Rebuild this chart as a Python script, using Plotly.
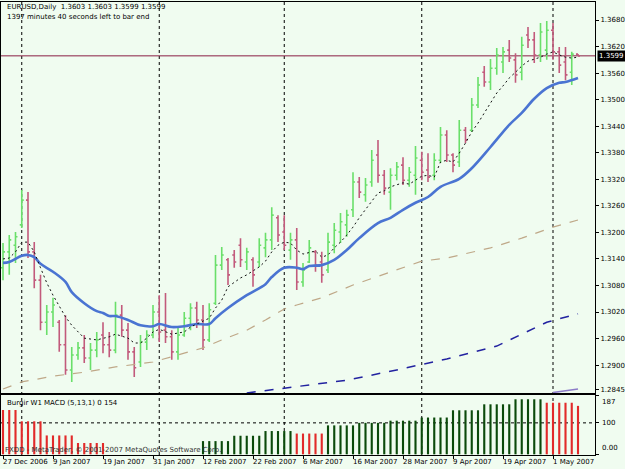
import plotly.graph_objects as go

# ---------------- data ----------------
bar_idx = list(range(93))
open_ = [1.3120, 1.3156, 1.3171, 1.3217, 1.3273, 1.3156, 1.3092, 1.2997, 1.3020, 1.2997,
         1.2946, 1.2889, 1.2923, 1.2939, 1.2916, 1.2934, 1.2968, 1.2946, 1.2934, 1.3013,
         1.2979, 1.2930, 1.2907, 1.2952, 1.2968, 1.3020, 1.2979, 1.2964, 1.2930, 1.2968,
         1.3006, 1.3029, 1.3002, 1.2957, 1.3040, 1.3126, 1.3138, 1.3149, 1.3171, 1.3133,
         1.3138, 1.3133, 1.3165, 1.3183, 1.3233, 1.3201, 1.3160, 1.3183, 1.3088, 1.3133,
         1.3156, 1.3133, 1.3115, 1.3171, 1.3201, 1.3217, 1.3251, 1.3314, 1.3285, 1.3314,
         1.3375, 1.3329, 1.3291, 1.3329, 1.3352, 1.3318, 1.3329, 1.3363, 1.3341, 1.3329,
         1.3363, 1.3420, 1.3375, 1.3359, 1.3431, 1.3431, 1.3488, 1.3562, 1.3540, 1.3571,
         1.3585, 1.3612, 1.3590, 1.3562, 1.3646, 1.3635, 1.3601, 1.3612, 1.3657, 1.3608,
         1.3585, 1.3562, 1.3603]
high = [1.3176, 1.3194, 1.3201, 1.3296, 1.3291, 1.3178, 1.3104, 1.3036, 1.3052, 1.3002,
        1.3013, 1.2941, 1.2952, 1.2968, 1.2950, 1.2975, 1.2997, 1.2975, 1.3043, 1.3036,
        1.2995, 1.2941, 1.2968, 1.2979, 1.3036, 1.3058, 1.3063, 1.2979, 1.2986, 1.3020,
        1.3040, 1.3043, 1.3036, 1.3040, 1.3149, 1.3167, 1.3142, 1.3160, 1.3187, 1.3165,
        1.3144, 1.3187, 1.3199, 1.3257, 1.3239, 1.3239, 1.3199, 1.3210, 1.3131, 1.3183,
        1.3160, 1.3156, 1.3199, 1.3221, 1.3244, 1.3251, 1.3336, 1.3325, 1.3323, 1.3386,
        1.3409, 1.3341, 1.3345, 1.3359, 1.3370, 1.3348, 1.3395, 1.3382, 1.3379, 1.3379,
        1.3438, 1.3431, 1.3379, 1.3454, 1.3438, 1.3504, 1.3551, 1.3576, 1.3592, 1.3617,
        1.3619, 1.3635, 1.3605, 1.3642, 1.3664, 1.3653, 1.3673, 1.3678, 1.3673, 1.3619,
        1.3619, 1.3608, 1.3603]
low = [1.3092, 1.3104, 1.3131, 1.3210, 1.3142, 1.3074, 1.2979, 1.2968, 1.2986, 1.2930,
       1.2878, 1.2862, 1.2912, 1.2905, 1.2889, 1.2918, 1.2927, 1.2918, 1.2927, 1.2964,
       1.2912, 1.2873, 1.2896, 1.2934, 1.2961, 1.2952, 1.2950, 1.2912, 1.2912, 1.2964,
       1.2979, 1.2984, 1.2934, 1.2952, 1.3036, 1.3115, 1.3081, 1.3120, 1.3122, 1.3115,
       1.3077, 1.3122, 1.3144, 1.3160, 1.3178, 1.3160, 1.3138, 1.3070, 1.3077, 1.3131,
       1.3111, 1.3086, 1.3108, 1.3153, 1.3176, 1.3190, 1.3235, 1.3278, 1.3269, 1.3303,
       1.3312, 1.3285, 1.3251, 1.3318, 1.3307, 1.3303, 1.3285, 1.3318, 1.3314, 1.3318,
       1.3357, 1.3359, 1.3336, 1.3348, 1.3402, 1.3427, 1.3481, 1.3529, 1.3522, 1.3556,
       1.3560, 1.3585, 1.3538, 1.3544, 1.3617, 1.3583, 1.3585, 1.3590, 1.3590, 1.3560,
       1.3544, 1.3533, 1.3599]
close = [1.3156, 1.3183, 1.3190, 1.3273, 1.3156, 1.3092, 1.2997, 1.3020, 1.3036, 1.2946,
         1.2889, 1.2923, 1.2939, 1.2916, 1.2934, 1.2957, 1.2946, 1.2934, 1.3013, 1.2979,
         1.2930, 1.2894, 1.2952, 1.2968, 1.3020, 1.2975, 1.2964, 1.2930, 1.2968, 1.3006,
         1.3029, 1.3002, 1.2957, 1.3025, 1.3126, 1.3149, 1.3104, 1.3133, 1.3138, 1.3156,
         1.3104, 1.3171, 1.3183, 1.3239, 1.3194, 1.3171, 1.3183, 1.3088, 1.3115, 1.3165,
         1.3126, 1.3104, 1.3178, 1.3205, 1.3224, 1.3239, 1.3314, 1.3291, 1.3307, 1.3363,
         1.3329, 1.3300, 1.3329, 1.3348, 1.3318, 1.3336, 1.3368, 1.3336, 1.3325, 1.3363,
         1.3420, 1.3375, 1.3352, 1.3431, 1.3409, 1.3488, 1.3533, 1.3540, 1.3571, 1.3601,
         1.3608, 1.3594, 1.3556, 1.3623, 1.3635, 1.3601, 1.3653, 1.3657, 1.3608, 1.3578,
         1.3556, 1.3603, 1.3599]

# moving averages (bar index, price)
blue_idx = [0, 1, 3, 4, 5, 6, 8, 10, 11, 13, 15, 16, 17, 18, 20, 22, 24, 25, 27, 29, 31, 33,
            34, 36, 39, 42, 43, 45, 47, 48, 49, 51, 53, 55, 57, 60, 62, 64, 66, 68, 70, 73,
            75, 78, 81, 83, 85, 87, 89, 90, 92]
blue_val = [1.3131, 1.3133, 1.3147, 1.3149, 1.3144, 1.3129, 1.3111, 1.3088, 1.3065, 1.3040,
            1.3022, 1.3018, 1.3011, 1.3011, 1.3002, 1.2990, 1.2988, 1.2993, 1.2986, 1.2988,
            1.2993, 1.2993, 1.3006, 1.3029, 1.3058, 1.3083, 1.3099, 1.3120, 1.3120, 1.3117,
            1.3124, 1.3126, 1.3138, 1.3160, 1.3187, 1.3221, 1.3233, 1.3251, 1.3267, 1.3280,
            1.3303, 1.3321, 1.3345, 1.3393, 1.3443, 1.3470, 1.3502, 1.3526, 1.3538, 1.3540,
            1.3549]
black_idx = [0, 1, 2, 3, 4, 5, 6, 7, 8, 10, 11, 13, 15, 17, 18, 20, 21, 22, 23, 24, 25, 26,
             27, 29, 30, 31, 33, 34, 35, 36, 38, 39, 41, 42, 43, 44, 45, 46, 47, 48, 50, 51,
             52, 53, 54, 55, 56, 57, 59, 60, 61, 62, 64, 65, 66, 67, 68, 69, 70, 71, 72, 73,
             74, 75, 76, 77, 78, 79, 80, 81, 82, 83, 84, 85, 86, 87, 88, 89, 90, 91, 92]
black_val = [1.3140, 1.3142, 1.3156, 1.3178, 1.3178, 1.3156, 1.3120, 1.3086, 1.3058, 1.3009,
             1.2990, 1.2961, 1.2957, 1.2964, 1.2970, 1.2961, 1.2950, 1.2950, 1.2961, 1.2975,
             1.2981, 1.2975, 1.2970, 1.2975, 1.2986, 1.2993, 1.3006, 1.3029, 1.3047, 1.3077,
             1.3097, 1.3104, 1.3122, 1.3135, 1.3156, 1.3171, 1.3178, 1.3176, 1.3160, 1.3151,
             1.3158, 1.3144, 1.3149, 1.3165, 1.3178, 1.3194, 1.3212, 1.3233, 1.3271, 1.3289,
             1.3294, 1.3303, 1.3312, 1.3309, 1.3318, 1.3327, 1.3329, 1.3325, 1.3359, 1.3363,
             1.3359, 1.3379, 1.3402, 1.3427, 1.3447, 1.3470, 1.3493, 1.3515, 1.3531, 1.3549,
             1.3562, 1.3576, 1.3587, 1.3592, 1.3596, 1.3603, 1.3608, 1.3601, 1.3596, 1.3594,
             1.3596]
tan_idx = [0, 3, 8, 13, 18, 24, 29, 32, 35, 39, 42, 45, 47, 51, 56, 62, 67, 71, 78, 83, 88, 92]
tan_val = [1.2846, 1.2862, 1.2875, 1.2884, 1.2896, 1.2907, 1.2927, 1.2939, 1.2957, 1.2979,
           1.3002, 1.3027, 1.3036, 1.3052, 1.3081, 1.3111, 1.3135, 1.3142, 1.3165, 1.3187,
           1.3212, 1.3228]
navy_idx = [39, 43, 47, 55, 63, 71, 79, 87, 92]
navy_val = [1.2837, 1.2844, 1.2851, 1.2866, 1.2889, 1.2914, 1.2943, 1.2997, 1.3016]
lilac_idx = [88, 92]
lilac_val = [1.2838, 1.2846]

bid_price = 1.3599

# Burgir W1 MACD histogram (weekly values repeated on each daily bar)
hist_val = [141, 141, 141, 105, 105, 105, 105, 60, 60, 60, 60, 60, 36, 36, 36, 36, 36,
            None, None, None, None, None, None, None, None, None, None, None, None, None, None, None,
            42, 42, 42, 42, 42, 59, 59, 59, 59, 59, 74, 74, 74, 74, 74, 66, 66, 66, 66, 66,
            92, 92, 92, 92, 92, 100, 100, 100, 100, 100, 107, 107, 107, 107, 107,
            117, 117, 117, 117, 117, 140, 140, 140, 140, 140, 159, 159, 159, 159, 159,
            175, 175, 175, 175, 175, 164, 164, 164, 164, 164, 154]
hist_dir = ["dn"] * 17 + [None] * 15 + ["up"] * 15 + ["dn"] * 5 + ["up"] * 35 + ["dn"] * 6

price_ticks = [1.3680, 1.3620, 1.3560, 1.3500, 1.3440, 1.3380, 1.3320, 1.3260, 1.3200,
               1.3140, 1.3080, 1.3020, 1.2960, 1.2900, 1.2845]
date_idx = [0, 8, 16, 24, 32, 40, 48, 56, 64, 72, 80, 88]
date_text = ["27 Dec 2006", "9 Jan 2007", "19 Jan 2007", "31 Jan 2007", "12 Feb 2007",
             "22 Feb 2007", "6 Mar 2007", "16 Mar 2007", "28 Mar 2007", "9 Apr 2007",
             "19 Apr 2007", "1 May 2007"]
month_start_idx = [3, 25, 45, 67, 88]
macd_ticks = [187, 100, 0]
macd_tick_text = ["187", "100", "0.00"]

# ---------------- style ----------------
W, H = 625, 469
BG = "#F0FCF0"
UP = "#6ADF6A"
DN = "#C25A7C"
FONT = "DejaVu Sans"
FS = 7

def fy(px):  # paper fraction from pixel row
    return 1 - px / H

x_dom = [1 / W, 595 / W]
main_dom = [fy(393), fy(2)]
sub_dom = [fy(455), fy(395)]

fig = go.Figure()
fig.add_trace(go.Ohlc(
    x=bar_idx, open=open_, high=high, low=low, close=close,
    increasing=dict(line=dict(color=UP, width=1.6)),
    decreasing=dict(line=dict(color=DN, width=1.6)),
    tickwidth=0.32, hoverinfo="skip", xaxis="x", yaxis="y"))
fig.add_trace(go.Scatter(x=navy_idx, y=navy_val, mode="lines",
                         line=dict(color="#2222A0", width=1.5, dash="dash"), xaxis="x", yaxis="y"))
fig.add_trace(go.Scatter(x=lilac_idx, y=lilac_val, mode="lines",
                         line=dict(color="#8C7CC8", width=1.5), xaxis="x", yaxis="y"))
fig.add_trace(go.Scatter(x=tan_idx, y=tan_val, mode="lines",
                         line=dict(color="#BFA888", width=1.2, dash="dash"), xaxis="x", yaxis="y"))
fig.add_trace(go.Scatter(x=blue_idx, y=blue_val, mode="lines", line_shape="spline",
                         line=dict(color="#4A74D2", width=2.6), xaxis="x", yaxis="y"))
fig.add_trace(go.Scatter(x=black_idx, y=black_val, mode="lines",
                         line=dict(color="#111111", width=1, dash="2px,3px"), xaxis="x", yaxis="y"))

colmap = {"up": "#0B4A0B", "dn": "#E22A2A", None: "rgba(0,0,0,0)"}
fig.add_trace(go.Bar(x=bar_idx, y=hist_val, marker=dict(color=[colmap[d] for d in hist_dir], line_width=0),
                     width=0.34, hoverinfo="skip", xaxis="x2", yaxis="y2"))

axis_common = dict(showline=True, mirror=True, linecolor="#000000", linewidth=1,
                   showgrid=False, zeroline=False)
fig.update_layout(
    width=W, height=H, margin=dict(l=0, r=0, t=0, b=0),
    paper_bgcolor=BG, plot_bgcolor=BG, showlegend=False,
    font=dict(family=FONT, size=FS, color="#000000"),
    xaxis=dict(domain=x_dom, range=[-0.32, 94.72], anchor="y", showticklabels=False, ticks="",
               rangeslider=dict(visible=False), **axis_common),
    xaxis2=dict(domain=x_dom, matches="x", anchor="y2", showticklabels=False, ticks="outside",
                ticklen=3, tickcolor="#000000", tickvals=date_idx, **axis_common),
    yaxis=dict(domain=main_dom, range=[1.28370, 1.37207], side="right", anchor="x",
               tickvals=price_ticks, ticktext=[f"{v:.4f}" for v in price_ticks],
               ticks="outside", ticklen=3, tickcolor="#000000",
               tickfont=dict(family=FONT, size=FS), **axis_common),
    yaxis2=dict(domain=sub_dom, range=[-2.2, 188.6], side="right", anchor="x2",
                tickvals=macd_ticks, showticklabels=False, ticks="outside", ticklen=3,
                tickcolor="#000000", **axis_common),
)

shapes = []
for m in month_start_idx:
    shapes.append(dict(type="line", xref="x", yref="paper", x0=m, x1=m, y0=fy(455), y1=fy(2),
                       line=dict(color="#000000", width=1, dash="dot"), layer="below"))
shapes.append(dict(type="line", xref="x2 domain", yref="y2", x0=0, x1=1, y0=100, y1=100,
                   line=dict(color="#000000", width=1, dash="dot"), layer="below"))
shapes.append(dict(type="line", xref="x domain", yref="y", x0=0, x1=1, y0=bid_price, y1=bid_price,
                   line=dict(color="#8A1E44", width=1), layer="below"))
fig.update_layout(shapes=shapes)

ann = []
ann.append(dict(xref="paper", yref="paper", x=5 / W, y=fy(7), xanchor="left", yanchor="middle",
                text=f"EURUSD,Daily  {open_[-1]:.4f} {high[-1]:.4f} {low[-1]:.4f} {close[-1]:.4f}",
                showarrow=False, font=dict(size=FS)))
ann.append(dict(xref="paper", yref="paper", x=5 / W, y=fy(17), xanchor="left", yanchor="middle",
                text="1397 minutes 40 seconds left to bar end", showarrow=False, font=dict(size=FS)))
ann.append(dict(xref="paper", yref="y", x=597 / W, y=bid_price, xanchor="left", yanchor="middle",
                text=f"{bid_price:.4f}", showarrow=False, bgcolor="#000000",
                font=dict(size=FS, color="#FFFFFF"), borderpad=1))
ann.append(dict(xref="paper", yref="paper", x=5 / W, y=fy(403), xanchor="left", yanchor="middle",
                text=f"Burgir W1 MACD (5,13,1) 0 {hist_val[-1]}", showarrow=False, font=dict(size=FS)))
ann.append(dict(xref="paper", yref="paper", x=3 / W, y=fy(450), xanchor="left", yanchor="middle",
                text="FXDD - MetaTrader, © 2001-2007 MetaQuotes Software Corp.", showarrow=False,
                font=dict(size=FS, color="#333333")))
for v, t, anc in zip(macd_ticks, macd_tick_text, ["top", "middle", "bottom"]):
    ann.append(dict(xref="paper", yref="y2", x=600 / W, y=v, xanchor="left", yanchor=anc,
                    text=t, showarrow=False, font=dict(size=FS)))
for i, t in zip(date_idx, date_text):
    ann.append(dict(xref="x2", yref="paper", x=i, y=fy(462), xanchor="left", yanchor="middle",
                    xshift=-2, text=t, showarrow=False, font=dict(size=FS)))
fig.update_layout(annotations=ann)

fig.write_html("out.html", config={"displayModeBar": False})
